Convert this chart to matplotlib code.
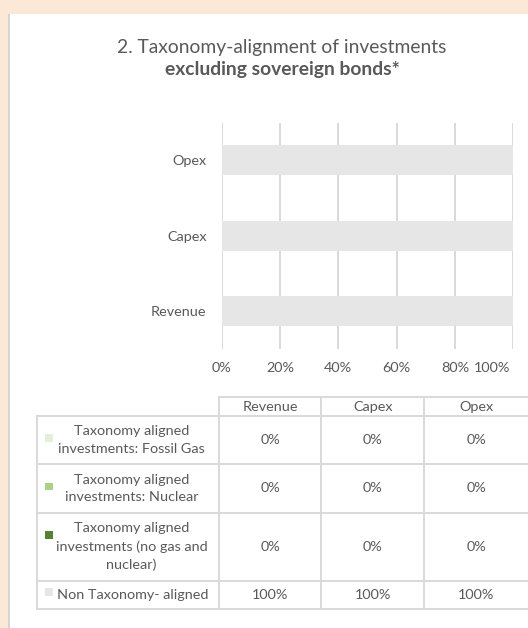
import matplotlib
matplotlib.use('Agg')
import matplotlib.pyplot as plt
import numpy as np
from matplotlib.patches import Rectangle
from matplotlib.lines import Line2D
from matplotlib.transforms import ScaledTranslation

# ---------------- data ----------------
categories = ['Revenue', 'Capex', 'Opex']
series_labels = ['Taxonomy aligned\ninvestments: Fossil Gas',
                 'Taxonomy aligned\ninvestments: Nuclear',
                 'Taxonomy aligned\ninvestments (no gas and\nnuclear)',
                 'Non Taxonomy- aligned']
fossil_gas = [0, 0, 0]
nuclear = [0, 0, 0]
aligned_no_gas_nuclear = [0, 0, 0]
non_aligned = [100, 100, 100]
x_ticks = [0, 20, 40, 60, 80, 100]
x_tick_labels = ['0%', '20%', '40%', '60%', '80%', '100%']
title_line1 = '2. Taxonomy-alignment of investments'
title_line2 = 'excluding sovereign bonds*'

# ---------------- style ----------------
FONT = 'Lato'
TXT = '#595959'
GRID = '#D9D9D9'
colors = ['#E2EFDA', '#A9D18E', '#548235', '#E7E6E6']
BEIGE = '#FBE8D7'
W, H = 528, 628
FS = 10.4

fig = plt.figure(figsize=(W / 100, H / 100), dpi=100)
fig.patch.set_facecolor(BEIGE)

# overlay in pixel coordinates
ov = fig.add_axes([0, 0, 1, 1], zorder=0)
ov.set_xlim(0, W)
ov.set_ylim(H, 0)
ov.axis('off')
ov.add_patch(Rectangle((8, 14), W - 8, H - 14, facecolor='white', edgecolor='none'))
ov.add_patch(Rectangle((8, 14), 2, H - 14, facecolor='#D3D5DA', edgecolor='none'))

# title
ov.text(282, 48, title_line1, ha='center', va='center', fontsize=13.9,
        color=TXT, family=FONT)
ov.text(282, 70, title_line2, ha='center', va='center', fontsize=13.9,
        color=TXT, family=FONT, fontweight='bold')

# ---------------- bar chart ----------------
ax_l, ax_r, ax_t, ax_b = 221.7, 513.3, 122.7, 348.7
ax = fig.add_axes([ax_l / W, 1 - ax_b / H, (ax_r - ax_l) / W, (ax_b - ax_t) / H], zorder=1)
ax.patch.set_alpha(0)
y = np.arange(len(categories))
series = [fossil_gas, nuclear, aligned_no_gas_nuclear, non_aligned]
left = np.zeros(len(categories))
for vals, c in zip(series, colors):
    vals = np.array(vals, dtype=float)
    ax.barh(y, vals, left=left, height=0.4, color=c, zorder=2)
    left += vals
ax.set_xlim(0, 100)
ax.set_ylim(-0.5, len(categories) - 0.5)
ax.set_xticks(x_ticks)
ax.set_xticklabels(x_tick_labels)
ax.set_yticks(y)
ax.set_yticklabels(categories)
ax.grid(axis='x', color=GRID, linewidth=1.4, zorder=0)
ax.set_axisbelow(True)
for s in ax.spines.values():
    s.set_visible(False)
ax.tick_params(axis='both', length=0, colors=TXT, labelsize=FS)
ax.tick_params(axis='x', pad=9.5)
ax.tick_params(axis='y', pad=11)
for lab in ax.get_xticklabels() + ax.get_yticklabels():
    lab.set_family(FONT)
last = ax.get_xticklabels()[-1]
last.set_horizontalalignment('right')
last.set_transform(last.get_transform() + ScaledTranslation(-3 / 100, 0, fig.dpi_scale_trans))

# ---------------- data table ----------------
row_edges = [397.3, 416, 464, 512.7, 580.7, 608.7]
col_edges = [36.7, 219.3, 321, 424.3, 528.5]
lw = 1.4
# horizontal lines
ov.add_line(Line2D([col_edges[1], W], [row_edges[0]] * 2, color=GRID, lw=lw))
for yy in row_edges[1:]:
    ov.add_line(Line2D([col_edges[0], W], [yy] * 2, color=GRID, lw=lw))
# vertical lines
ov.add_line(Line2D([col_edges[0]] * 2, [row_edges[1], row_edges[-1]], color=GRID, lw=lw))
for xx in col_edges[1:]:
    ov.add_line(Line2D([xx] * 2, [row_edges[0], row_edges[-1]], color=GRID, lw=lw))

# header
for j, cat in enumerate(categories):
    cx = (col_edges[j + 1] + col_edges[j + 2]) / 2
    ov.text(cx, (row_edges[0] + row_edges[1]) / 2, cat, ha='center', va='center',
            fontsize=FS, color=TXT, family=FONT)

marker_dy = [-2, -2, -12, -3]
for i, (lab, vals, c) in enumerate(zip(series_labels, series, colors)):
    top, bot = row_edges[i + 1], row_edges[i + 2]
    cy = (top + bot) / 2
    if '\n' in lab:
        ov.text(131.5, cy, lab, ha='center', va='center', fontsize=FS,
                color=TXT, family=FONT, multialignment='center', linespacing=1.55)
    else:
        ov.text(57, cy, lab, ha='left', va='center', fontsize=FS,
                color=TXT, family=FONT)
    my = cy + marker_dy[i]
    ov.add_patch(Rectangle((45, my - 3.7), 7.5, 7.5, facecolor=c, edgecolor='none'))
    for j, v in enumerate(vals):
        cx = (col_edges[j + 1] + col_edges[j + 2]) / 2
        ov.text(cx, cy, f'{v:.0f}%', ha='center', va='center', fontsize=FS,
                color=TXT, family=FONT)

fig.savefig('out.png', dpi=100, facecolor=BEIGE)
